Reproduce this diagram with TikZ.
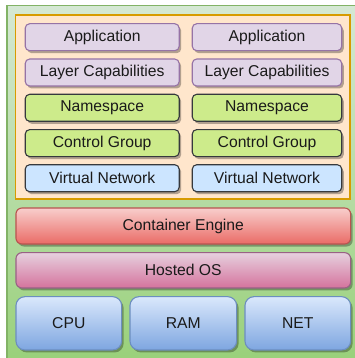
\documentclass[tikz,border=0pt]{standalone}
\usepackage{fontspec}
\setmainfont{Liberation Sans}
\usetikzlibrary{shadows}
\definecolor{gfill}{HTML}{D5E8D4}
\definecolor{ggrad}{HTML}{97D077}
\definecolor{gline}{HTML}{82B366}
\definecolor{ofill}{HTML}{FFE6CC}
\definecolor{oline}{HTML}{D79B00}
\definecolor{pfill}{HTML}{E1D5E7}
\definecolor{pline}{HTML}{9673A6}
\definecolor{lfill}{HTML}{CDEB8B}
\definecolor{dline}{HTML}{36393D}
\definecolor{bfill}{HTML}{CCE5FF}
\definecolor{rfill}{HTML}{F8CECC}
\definecolor{rgrad}{HTML}{EA6B66}
\definecolor{rline}{HTML}{B85450}
\definecolor{mfill}{HTML}{E6D0DE}
\definecolor{mgrad}{HTML}{D5739D}
\definecolor{mline}{HTML}{996185}
\definecolor{hfill}{HTML}{DAE8FC}
\definecolor{hgrad}{HTML}{7EA6E0}
\definecolor{hline}{HTML}{6C8EBF}
\definecolor{txt}{HTML}{1A1A1A}
\tikzset{
  lbl/.style={font=\fontsize{15.7}{18}\selectfont, text=txt, inner sep=0pt, line width=1.1pt},
  shad/.style={drop shadow={shadow xshift=2pt, shadow yshift=-2.5pt, opacity=0.3, fill=black}},
  small/.style={lbl, shad, rounded corners=4.5pt, minimum height=27pt},
  lcol/.style={small, minimum width=154pt},
  rcol/.style={small, minimum width=149.5pt},
  purp/.style={fill=pfill, draw=pline},
  lime/.style={fill=lfill, draw=dline},
  sky/.style={fill=bfill, draw=dline},
  redbox/.style={lbl, shad, rounded corners=6pt, draw=rline, top color=rfill, bottom color=rgrad},
  magbox/.style={lbl, shad, rounded corners=6pt, draw=mline, top color=mfill, bottom color=mgrad},
  hwbox/.style={lbl, shad, rounded corners=9pt, draw=hline, top color=hfill, bottom color=hgrad, minimum height=53.3pt},
}
\begin{document}
\begin{tikzpicture}[x=1pt,y=-1pt]
\useasboundingbox (0,0) rectangle (355,358);
\begin{scope}
\clip (0,0) rectangle (355,358);
\path[draw=gline, line width=1.1pt, top color=gfill, bottom color=ggrad] (7,5.5) rectangle (372,372);
\end{scope}
\path[draw=oline, fill=ofill, line width=1.1pt] (15.7,15) rectangle (350,199);
\node[lcol, purp] (app1) at (102.2,37.2) {Application};
\node[rcol, purp] (app2) at (267,37.2) {Application};
\node[lcol, purp] (lay1) at (102.2,72.5) {Layer Capabilities};
\node[rcol, purp] (lay2) at (267,72.5) {Layer Capabilities};
\node[lcol, lime] (ns1) at (102.2,107.8) {Namespace};
\node[rcol, lime] (ns2) at (267,107.8) {Namespace};
\node[lcol, lime] (cg1) at (102.2,143.1) {Control Group};
\node[rcol, lime] (cg2) at (267,143.1) {Control Group};
\node[lcol, sky] (vn1) at (102.2,178.2) {Virtual Network};
\node[rcol, sky] (vn2) at (267,178.2) {Virtual Network};
\node[redbox, minimum width=334.7pt, minimum height=36pt] (ce) at (183.3,226) {Container Engine};
\node[magbox, minimum width=334.7pt, minimum height=35.3pt] (os) at (183.3,270.3) {Hosted OS};
\node[hwbox, minimum width=105.7pt] (cpu) at (68.8,323.3) {CPU};
\node[hwbox, minimum width=106.7pt] (ram) at (183.3,323.3) {RAM};
\node[hwbox, minimum width=105.7pt] (net) at (297.8,323.3) {NET};
\end{tikzpicture}
\end{document}
